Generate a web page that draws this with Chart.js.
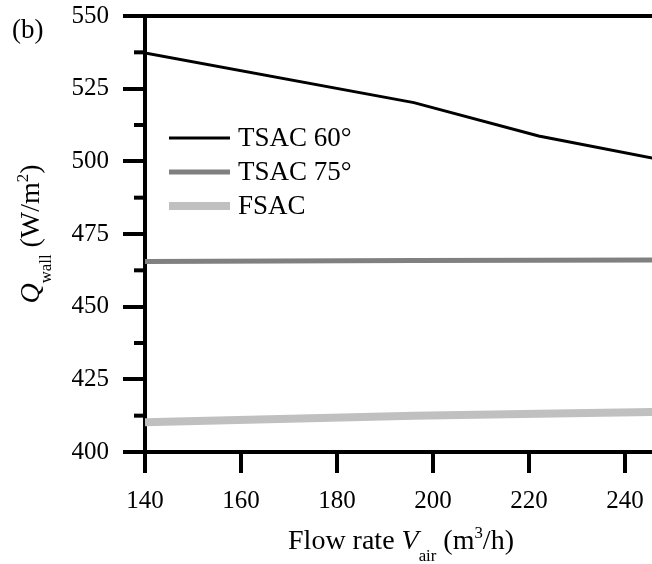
<!DOCTYPE html>
<html>
<head>
<meta charset="utf-8">
<script src="https://cdn.jsdelivr.net/npm/chart.js@4"></script>
<style>
  html, body { margin: 0; padding: 0; background: #fff; overflow: hidden; }
</style>
</head>
<body>
<canvas id="c" width="652" height="564"></canvas>
<script>
// values
const flowRates = [140, 196, 222, 250];
const tsac60 = [537.3, 520.2, 508.7, 499.7];
const tsac75 = [465.5, 465.9, 466.0, 466.1];
const fsac = [410.2, 412.5, 413.2, 413.9];
const seriesNames = ["TSAC 60°", "TSAC 75°", "FSAC"];
const xTicks = [140, 160, 180, 200, 220, 240];
const yTicks = [400, 425, 450, 475, 500, 525, 550];
const yMinorTicks = [412.5, 437.5, 462.5, 487.5, 512.5, 537.5];

const FONT = "'Liberation Serif', 'Times New Roman', serif";

const toPoints = (vals) => vals.map((v, i) => ({ x: flowRates[i], y: v }));

// draw a string made of pieces (italic / sub / sup), centred on (cx, baseline)
function drawRich(ctx, parts, cx, baseY, size) {
  const small = size * 0.6;
  const fontOf = (p) => (p.italic ? "italic " : "") + (p.sub || p.sup ? small : size) + "px " + FONT;
  let total = 0;
  parts.forEach((p) => { ctx.font = fontOf(p); total += ctx.measureText(p.t).width; });
  let x = cx - total / 2;
  parts.forEach((p) => {
    ctx.font = fontOf(p);
    let y = baseY;
    if (p.sub) y += size * 0.42;
    if (p.sup) y -= size * 0.4;
    ctx.fillText(p.t, x, y);
    x += ctx.measureText(p.t).width;
  });
}

const extras = {
  id: "extras",
  afterDraw(chart) {
    const ctx = chart.ctx;
    const a = chart.chartArea;
    const y = chart.scales.y;
    ctx.save();
    ctx.strokeStyle = "#000";
    ctx.lineWidth = 4;
    // top frame line
    ctx.beginPath();
    ctx.moveTo(a.left, a.top);
    ctx.lineTo(a.right, a.top);
    ctx.stroke();
    // minor y ticks
    yMinorTicks.forEach((v) => {
      const py = y.getPixelForValue(v);
      ctx.beginPath();
      ctx.moveTo(a.left - 11, py);
      ctx.lineTo(a.left, py);
      ctx.stroke();
    });

    // legend
    ctx.textBaseline = "middle";
    ctx.textAlign = "left";
    chart.data.datasets.forEach((ds, i) => {
      const ly = 138 + i * 34;
      ctx.strokeStyle = ds.borderColor;
      ctx.lineWidth = ds.borderWidth;
      ctx.beginPath();
      ctx.moveTo(169, ly);
      ctx.lineTo(230, ly);
      ctx.stroke();
      ctx.fillStyle = "#000";
      ctx.font = "27px " + FONT;
      ctx.fillText(ds.label, 238, ly + 1);
    });

    // panel label
    ctx.font = "27px " + FONT;
    ctx.fillText("(b)", 12, 31);

    // axis titles
    ctx.textBaseline = "alphabetic";
    ctx.fillStyle = "#000";
    drawRich(ctx, [
      { t: "Flow rate " },
      { t: "V", italic: true },
      { t: "air", sub: true },
      { t: " (m" },
      { t: "3", sup: true },
      { t: "/h)" }
    ], 401, 549, 28);

    ctx.translate(39, (a.top + a.bottom) / 2);
    ctx.rotate(-Math.PI / 2);
    drawRich(ctx, [
      { t: "Q", italic: true },
      { t: "wall", sub: true },
      { t: " (W/m" },
      { t: "2", sup: true },
      { t: ")" }
    ], 0, 0, 28);
    ctx.restore();
  }
};

new Chart(document.getElementById("c"), {
  type: "line",
  data: {
    datasets: [
      { label: seriesNames[0], data: toPoints(tsac60), borderColor: "#000000", borderWidth: 3 },
      { label: seriesNames[1], data: toPoints(tsac75), borderColor: "#808080", borderWidth: 5 },
      { label: seriesNames[2], data: toPoints(fsac), borderColor: "#c0c0c0", borderWidth: 8 }
    ].map((d) => ({ ...d, pointRadius: 0, tension: 0, fill: false }))
  },
  options: {
    responsive: false,
    devicePixelRatio: 1,
    animation: false,
    layout: { padding: { top: 16, right: 0, left: 0, bottom: 0 } },
    plugins: { legend: { display: false }, tooltip: { enabled: false } },
    scales: {
      x: {
        type: "linear",
        min: 140,
        max: 245.6,
        afterBuildTicks: (s) => { s.ticks = xTicks.map((v) => ({ value: v })); },
        afterFit: (s) => { s.height = 112; s.paddingLeft = 0; s.paddingRight = 0; },
        ticks: { color: "#000", padding: 13, font: { family: FONT, size: 25 } },
        grid: { drawOnChartArea: false, tickLength: 21, lineWidth: 4, tickColor: "#000" },
        border: { color: "#000", width: 4 }
      },
      y: {
        min: 400,
        max: 550,
        afterBuildTicks: (s) => { s.ticks = yTicks.map((v) => ({ value: v })); },
        afterFit: (s) => { s.width = 145; s.paddingTop = 0; s.paddingBottom = 0; },
        ticks: { color: "#000", padding: 14, font: { family: FONT, size: 25 } },
        grid: { drawOnChartArea: false, tickLength: 22, lineWidth: 4, tickColor: "#000" },
        border: { color: "#000", width: 4 }
      }
    }
  },
  plugins: [extras]
});
</script>
</body>
</html>
